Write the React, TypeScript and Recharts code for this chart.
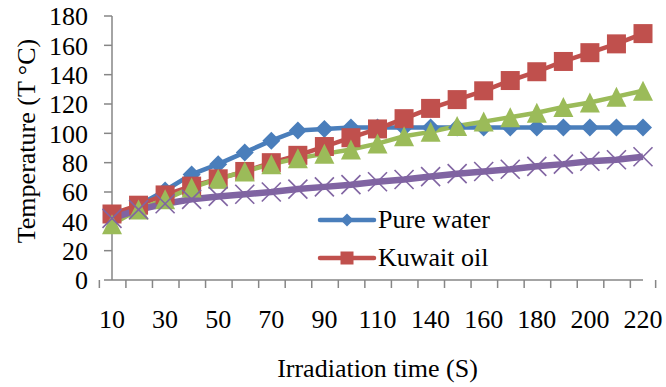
import React from 'react';
import { LineChart, Line, XAxis, YAxis, Legend } from 'recharts';

// ---- data ----
const times = ['10', '20', '30', '40', '50', '60', '70', '80', '90', '100', '110', '120', '140', '150', '160', '170', '180', '190', '200', '210', '220'];
const pureWater = [41, 51, 61, 72, 79, 87, 95, 102, 103, 104, 104, 104, 104, 104, 104, 104, 104, 104, 104, 104, 104];
const kuwaitOil = [45, 51, 58, 64, 69, 74, 80, 85, 91, 97, 103, 110, 117, 123, 129, 136, 142, 149, 155, 161, 168];
const series3 = [38, 48, 55, 63, 69, 74, 79, 83, 86, 89, 93, 98, 101, 105, 108, 111, 114, 118, 121, 125, 129];
const series4 = [42, 48, 52, 55, 57, 58.5, 60, 62, 63.5, 65, 67, 68.5, 70.5, 72.5, 74, 75.5, 77.5, 79, 81, 82, 84];
const yTicks = [0, 20, 40, 60, 80, 100, 120, 140, 160, 180];
const legendKeys = ['pure', 'kuwait'];
const xLabelEvery = 2;

const data = times.map((t, i) => ({
  time: t,
  pure: pureWater[i],
  kuwait: kuwaitOil[i],
  s3: series3[i],
  s4: series4[i],
}));

// ---- layout / style ----
const W = 666;
const H = 387;
const LEFT = 112;
const RIGHT = 23;
const TOP = 16;
const X_AXIS_H = 107;
const AXIS_Y = H - X_AXIS_H;
const PLOT_W = W - LEFT - RIGHT;
const BW = PLOT_W / times.length;
const FONT = "'Liberation Serif', 'Times New Roman', 'DejaVu Serif', serif";
const AXIS = '#868686';
const BLUE = '#4A7EBB';
const RED = '#C0504D';
const GREEN = '#9BBB59';
const PURPLE = '#8064A2';

const marker = (kind: string, cx: number, cy: number, s: number, key?: any) => {
  if (cx == null || cy == null) return <g key={key} />;
  switch (kind) {
    case 'pure':
      return (
        <polygon key={key} points={`${cx},${cy - s} ${cx + s},${cy} ${cx},${cy + s} ${cx - s},${cy}`} fill={BLUE} />
      );
    case 'kuwait':
      return <rect key={key} x={cx - s} y={cy - s} width={2 * s} height={2 * s} fill={RED} />;
    case 's3':
      return (
        <polygon key={key} points={`${cx},${cy - s} ${cx + s},${cy + s} ${cx - s},${cy + s}`} fill={GREEN} />
      );
    default:
      return (
        <g key={key} stroke={PURPLE} strokeWidth={1.6}>
          <line x1={cx - s} y1={cy - s} x2={cx + s} y2={cy + s} />
          <line x1={cx - s} y1={cy + s} x2={cx + s} y2={cy - s} />
        </g>
      );
  }
};

const XTick = (p: any) => {
  const { x, index } = p;
  const last = index === times.length - 1;
  return (
    <g>
      <line x1={x - BW / 2} y1={AXIS_Y} x2={x - BW / 2} y2={AXIS_Y + 8} stroke={AXIS} strokeWidth={1.5} />
      {last && <line x1={x + BW / 2} y1={AXIS_Y} x2={x + BW / 2} y2={AXIS_Y + 8} stroke={AXIS} strokeWidth={1.5} />}
      {index % xLabelEvery === 0 && (
        <text x={x} y={AXIS_Y + 48} textAnchor="middle" style={{ fontFamily: FONT, fontSize: 26 }} fill="#000">
          {p.payload.value}
        </text>
      )}
    </g>
  );
};

const renderLegend = (props: any) => {
  const items = legendKeys
    .map((k) => (props.payload || []).find((e: any) => e.dataKey === k))
    .filter(Boolean);
  return (
    <div style={{ fontFamily: FONT, fontSize: 26, color: '#000' }}>
      {items.map((e: any) => (
        <div key={e.value} style={{ display: 'flex', alignItems: 'center', height: 38 }}>
          <svg width={60} height={22} style={{ display: 'block' }}>
            <line x1={3} y1={11} x2={57} y2={11} stroke={e.color} strokeWidth={4.5} strokeLinecap="round" />
            {marker(e.dataKey, 30, 11, 6.5)}
          </svg>
          <span style={{ marginLeft: 1, lineHeight: '38px', whiteSpace: 'nowrap' }}>{e.value}</span>
        </div>
      ))}
    </div>
  );
};

export default function App() {
  return (
    <div style={{ position: 'absolute', left: 0, top: 0, background: '#fff', fontFamily: FONT }}>
      <LineChart width={W} height={H} data={data} margin={{ top: TOP, right: RIGHT, left: 0, bottom: 0 }} style={{ fontFamily: FONT }}>
        <XAxis
          dataKey="time"
          type="category"
          interval={0}
          height={X_AXIS_H}
          tickLine={false}
          stroke={AXIS}
          axisLine={{ stroke: AXIS, strokeWidth: 1.5 }}
          tick={(p: any) => <XTick {...p} />}
          label={{
            content: (lp: any) => {
              const vb = lp.viewBox || {};
              return (
                <text x={vb.x + vb.width / 2} y={vb.y + vb.height - 10} textAnchor="middle" style={{ fontFamily: FONT, fontSize: 26 }} fill="#000">
                  Irradiation time (S)
                </text>
              );
            },
          }}
        />
        <YAxis
          type="number"
          domain={[0, 180]}
          ticks={yTicks}
          interval={0}
          width={LEFT}
          tickSize={8}
          tickMargin={16}
          stroke={AXIS}
          axisLine={{ stroke: AXIS, strokeWidth: 1.5 }}
          tickLine={{ stroke: AXIS, strokeWidth: 1.5 }}
          tick={{ fill: '#000', fontSize: 26, fontFamily: FONT, style: { fontFamily: FONT } }}
          label={{
            content: (lp: any) => {
              const vb = lp.viewBox || {};
              const cx = vb.x + 26;
              const cy = vb.y + vb.height / 2 - 7;
              return (
                <text
                  x={cx}
                  y={cy}
                  transform={`rotate(-90 ${cx} ${cy})`}
                  textAnchor="middle"
                  dominantBaseline="central"
                  style={{ fontFamily: FONT, fontSize: 26 }}
                  fill="#000"
                >
                  Temperature (T  °C)
                </text>
              );
            },
          }}
        />
        <Legend
          layout="vertical"
          align="center"
          verticalAlign="middle"
          content={renderLegend}
          wrapperStyle={{ left: 317, top: 201, width: 220 }}
        />
        <Line
          name="Pure water"
          dataKey="pure"
          stroke={BLUE}
          strokeWidth={4.5}
          isAnimationActive={false}
          dot={(p: any) => marker('pure', p.cx, p.cy, 9, p.index)}
          activeDot={false}
        />
        <Line
          name="Kuwait oil"
          dataKey="kuwait"
          stroke={RED}
          strokeWidth={4.5}
          isAnimationActive={false}
          dot={(p: any) => marker('kuwait', p.cx, p.cy, 9.5, p.index)}
          activeDot={false}
        />
        <Line
          name="Series 3"
          dataKey="s3"
          stroke={GREEN}
          strokeWidth={4.5}
          legendType="none"
          isAnimationActive={false}
          dot={(p: any) => marker('s3', p.cx, p.cy, 10, p.index)}
          activeDot={false}
        />
        <Line
          name="Series 4"
          dataKey="s4"
          stroke={PURPLE}
          strokeWidth={6.5}
          legendType="none"
          isAnimationActive={false}
          dot={(p: any) => marker('s4', p.cx, p.cy, 9.5, p.index)}
          activeDot={false}
        />
      </LineChart>
    </div>
  );
}
